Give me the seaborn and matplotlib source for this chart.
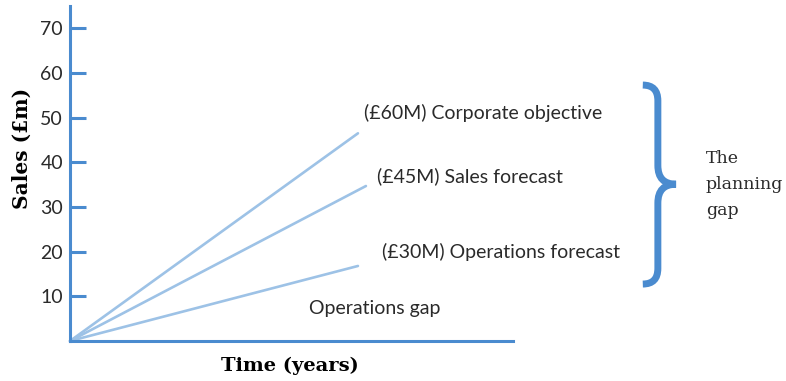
import matplotlib
matplotlib.use("Agg")
import matplotlib.pyplot as plt
from matplotlib.path import Path
from matplotlib.patches import PathPatch
import pandas as pd
import seaborn as sns

# Projected sales lines: each runs from the origin to its end point
series = ["Corporate objective", "Sales forecast", "Operations forecast"]
end_time = [6.5, 6.68, 6.5]
end_sales = [46.5, 34.7, 16.8]
targets = ["£60M", "£45M", "£30M"]
y_ticks = [10, 20, 30, 40, 50, 60, 70]

rows = []
for name, t, s in zip(series, end_time, end_sales):
    rows.append({"series": name, "time": 0.0, "sales": 0.0})
    rows.append({"series": name, "time": t, "sales": s})
df = pd.DataFrame(rows)

sns.set_style("white")
plt.rcParams["font.family"] = ["Lato", "DejaVu Sans"]

AXIS = "#4a8bcf"
LINE = "#9dc2e6"
TEXT = "#2a2a2a"

fig = plt.figure(figsize=(7.86, 3.81), dpi=100)
ax = fig.add_axes([70 / 786, 40 / 381, 443 / 786, 335 / 381])

sns.lineplot(data=df, x="time", y="sales", hue="series",
             palette=[LINE] * len(series), linewidth=1.9,
             legend=False, ax=ax, clip_on=False)

ax.set_xlim(0, 10)
ax.set_ylim(0, 75)
ax.set_xticks([])
ax.set_yticks(y_ticks)
ax.set_yticklabels([str(v) for v in y_ticks], fontsize=14, color=TEXT)
ax.tick_params(axis="y", left=True, direction="in", length=11.5, width=2.2,
               color=AXIS, pad=5)

for side in ["top", "right"]:
    ax.spines[side].set_visible(False)
for side in ["left", "bottom"]:
    ax.spines[side].set_color(AXIS)
    ax.spines[side].set_linewidth(2.2)

ax.set_xlabel("Time (years)", fontsize=14, fontweight="bold",
              family="DejaVu Serif", color="black")
ax.set_ylabel("Sales (£m)", fontsize=14.5, fontweight="bold",
              family="DejaVu Serif", color="black")
ax.yaxis.set_label_coords(-0.087, 0.575)
ax.xaxis.set_label_coords(0.497, -0.047)
ax.xaxis.label.set_va("top")

# Line labels
label_pos = [(6.63, 51.0), (6.93, 36.8), (7.05, 20.0)]
for name, tgt, (x, y) in zip(series, targets, label_pos):
    ax.text(x, y, f"({tgt}) {name}", fontsize=14, color=TEXT,
            va="center", ha="left", clip_on=False)

ax.text(5.4, 7.2, "Operations gap", fontsize=14, color=TEXT,
        va="center", ha="left")

# Curly brace spanning the planning gap
x0, xs, xt = 12.93, 13.27, 13.68
y_top, y_mid, y_bot = 57.3, 35.1, 12.75
verts = [
    (x0, y_top), (xs, y_top), (xs, y_top - 3.5),
    (xs, y_mid + 4.2),
    (xs, y_mid), (xt, y_mid),
    (xs, y_mid), (xs, y_mid - 4.2),
    (xs, y_bot + 3.5),
    (xs, y_bot), (x0, y_bot),
]
codes = [Path.MOVETO, Path.CURVE3, Path.CURVE3,
         Path.LINETO,
         Path.CURVE3, Path.CURVE3,
         Path.CURVE3, Path.CURVE3,
         Path.LINETO,
         Path.CURVE3, Path.CURVE3]
brace = PathPatch(Path(verts, codes), facecolor="none", edgecolor=AXIS,
                  linewidth=5, capstyle="butt", joinstyle="miter",
                  clip_on=False)
ax.add_patch(brace)

ax.text(14.35, 35.1, "The\nplanning\ngap", fontsize=12.5, color=TEXT,
        family="DejaVu Serif", va="center", ha="left", linespacing=1.7,
        clip_on=False)

fig.savefig("out.png", dpi=100)
